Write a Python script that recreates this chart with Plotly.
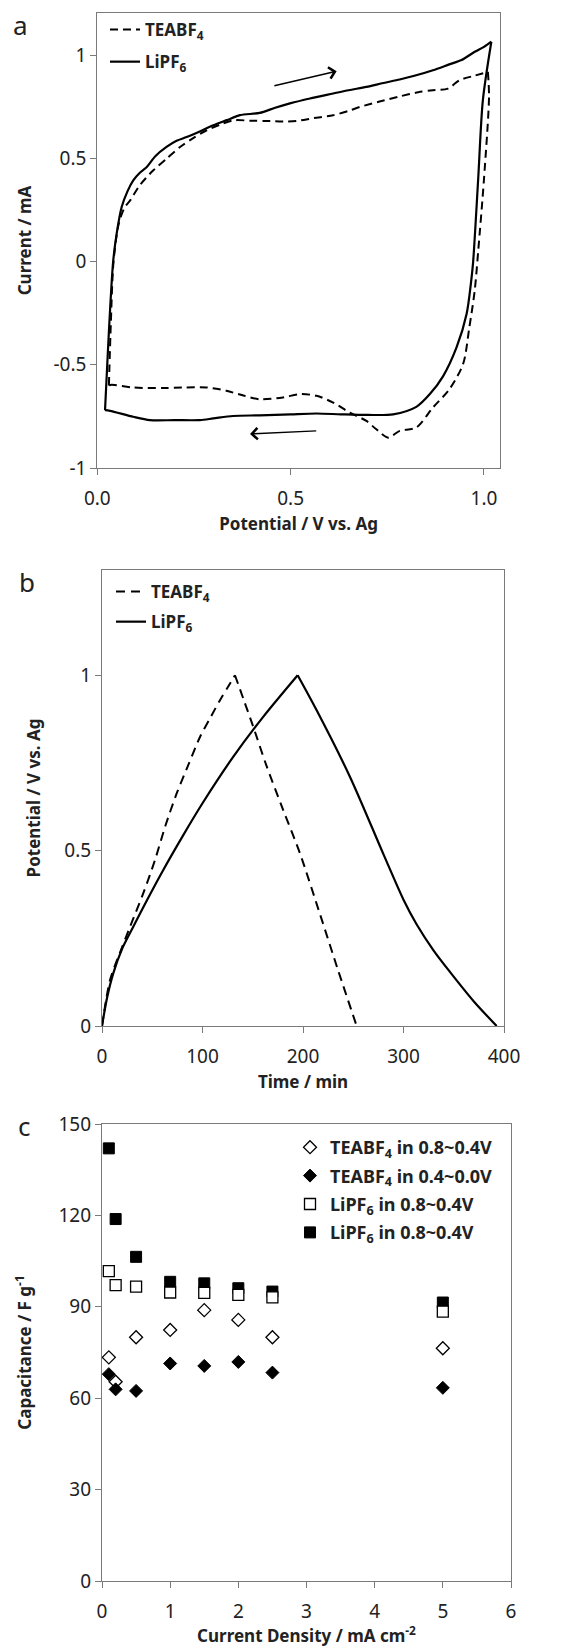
import plotly.graph_objects as go

# ---------------- Panel a: cyclic voltammetry ----------------
cv_tea_x = [0.03, 0.035, 0.042, 0.055, 0.07, 0.085, 0.11, 0.145, 0.18, 0.214, 0.25, 0.283, 0.32, 0.351,
            0.40, 0.438, 0.48, 0.515, 0.56, 0.61, 0.65, 0.679, 0.73, 0.782, 0.83, 0.868, 0.907, 0.937,
            0.975, 1.01, 1.013, 1.0, 0.985, 0.976, 0.962, 0.946, 0.91, 0.868, 0.825, 0.782, 0.752,
            0.72, 0.696, 0.653, 0.61, 0.567, 0.524, 0.48, 0.42, 0.38, 0.334, 0.283, 0.22, 0.17,
            0.093, 0.037, 0.03]
cv_tea_y = [-0.60, -0.30, 0.0, 0.18, 0.26, 0.296, 0.37, 0.442, 0.50, 0.555, 0.60, 0.636, 0.665, 0.684,
            0.682, 0.681, 0.678, 0.681, 0.695, 0.709, 0.73, 0.749, 0.775, 0.80, 0.82, 0.83, 0.838, 0.879,
            0.90, 0.919, 0.80, 0.40, 0.05, -0.141, -0.32, -0.496, -0.62, -0.707, -0.804, -0.82, -0.853,
            -0.81, -0.772, -0.732, -0.683, -0.65, -0.642, -0.658, -0.667, -0.65, -0.626, -0.61, -0.61,
            -0.613, -0.61, -0.597, -0.60]

cv_li_x = [0.02, 0.027, 0.034, 0.041, 0.05, 0.063, 0.078, 0.093, 0.11, 0.128, 0.15, 0.179, 0.205, 0.231,
           0.265, 0.30, 0.335, 0.369, 0.42, 0.46, 0.498, 0.55, 0.61, 0.65, 0.696, 0.74, 0.782, 0.82,
           0.868, 0.91, 0.942, 0.976, 1.0, 1.019, 0.997, 0.985, 0.972, 0.967, 0.955, 0.929, 0.894,
           0.86, 0.825, 0.765, 0.70, 0.63, 0.567, 0.50, 0.42, 0.351, 0.30, 0.265, 0.20, 0.136, 0.093,
           0.033, 0.02]
cv_li_y = [-0.72, -0.45, -0.20, 0.0, 0.134, 0.264, 0.34, 0.393, 0.43, 0.458, 0.51, 0.555, 0.585, 0.603,
           0.63, 0.66, 0.685, 0.709, 0.72, 0.745, 0.766, 0.79, 0.814, 0.83, 0.846, 0.865, 0.882, 0.90,
           0.927, 0.955, 0.976, 1.016, 1.04, 1.065, 0.78, 0.40, 0.0, -0.092, -0.254, -0.416, -0.556,
           -0.642, -0.704, -0.74, -0.743, -0.74, -0.736, -0.74, -0.745, -0.748, -0.76, -0.768, -0.768,
           -0.768, -0.752, -0.723, -0.72]

# ---------------- Panel b: galvanostatic charge/discharge ----------------
gcd_tea_t = [0, 8, 18, 27.9, 41, 52.7, 63, 74.3, 86, 97.5, 108, 117.4, 125, 132.3,
             141, 150.5, 163.9, 180.4, 197, 217, 235, 253.4]
gcd_tea_v = [0, 0.131, 0.21, 0.283, 0.378, 0.473, 0.57, 0.663, 0.745, 0.824, 0.88, 0.929, 0.965, 1.0,
             0.93, 0.853, 0.74, 0.615, 0.492, 0.318, 0.158, 0]

gcd_li_t = [0, 5, 11.2, 20, 31.1, 45, 60, 80, 100, 130, 160, 194.7,
            213.6, 246.8, 280, 300, 313, 330, 346, 370, 392.7]
gcd_li_v = [0, 0.08, 0.15, 0.22, 0.283, 0.36, 0.44, 0.54, 0.635, 0.765, 0.88, 1.0,
            0.90, 0.71, 0.49, 0.36, 0.29, 0.215, 0.155, 0.07, 0]

# ---------------- Panel c: capacitance vs current density ----------------
cur_density = [0.1, 0.2, 0.5, 1, 1.5, 2, 2.5, 5]
cap_tea_high = [73.4, 65.4, 80.0, 82.4, 88.9, 85.7, 80.0, 76.4]
cap_tea_low = [67.9, 62.9, 62.4, 71.4, 70.6, 71.9, 68.4, 63.4]
cap_li_open = [101.7, 97.1, 96.6, 94.7, 94.6, 93.9, 93.1, 88.4]
cap_li_filled = [142.0, 118.8, 106.4, 98.2, 97.7, 96.1, 95.0, 91.4]

name_tea = "TEABF<sub>4</sub>"
name_li = "LiPF<sub>6</sub>"
c_names = ["TEABF<sub>4</sub> in 0.8~0.4V", "TEABF<sub>4</sub> in 0.4~0.0V",
           "LiPF<sub>6</sub> in 0.8~0.4V", "LiPF<sub>6</sub> in 0.8~0.4V"]

FONT = "Noto Sans"
AX = "#7a7a7a"
TXT = "#222222"
H = 1647
W = 562

fig = go.Figure()


def add_branches(xs, ys, name, line, xa, ya, leg, group):
    """Draw a curve as two smooth branches split at its vertex (max of y)."""
    k = max(range(len(ys)), key=lambda i: ys[i])
    for j, (bx, by) in enumerate([(xs[:k + 1], ys[:k + 1]), (xs[k:], ys[k:])]):
        fig.add_trace(go.Scatter(x=bx, y=by, mode="lines", name=name,
                                 line=dict(shape="spline", smoothing=0.8, **line),
                                 xaxis=xa, yaxis=ya, legend=leg, legendgroup=group,
                                 showlegend=(j == 0)))


add_branches(cv_tea_x, cv_tea_y, name_tea, dict(color="black", width=2, dash="8px,5px"), "x", "y", "legend", "a1")
add_branches(cv_li_x, cv_li_y, name_li, dict(color="black", width=2.2), "x", "y", "legend", "a2")
add_branches(gcd_tea_t, gcd_tea_v, name_tea, dict(color="black", width=2, dash="9px,6px"), "x2", "y2", "legend2", "b1")
add_branches(gcd_li_t, gcd_li_v, name_li, dict(color="black", width=2.2), "x2", "y2", "legend2", "b2")

# panel c traces
fig.add_trace(go.Scatter(x=cur_density, y=cap_tea_high, mode="markers", name=c_names[0],
                         marker=dict(symbol="diamond", size=10, color="white",
                                     line=dict(color="black", width=1.3)),
                         xaxis="x3", yaxis="y3", legend="legend3", legendgroup="c1", legendrank=1))
fig.add_trace(go.Scatter(x=cur_density, y=cap_tea_low, mode="markers", name=c_names[1],
                         marker=dict(symbol="diamond", size=10, color="black",
                                     line=dict(color="black", width=1)),
                         xaxis="x3", yaxis="y3", legend="legend3", legendgroup="c2", legendrank=2))
fig.add_trace(go.Scatter(x=cur_density, y=cap_li_filled, mode="markers", name=c_names[3],
                         marker=dict(symbol="square", size=11, color="black",
                                     line=dict(color="black", width=1)),
                         xaxis="x3", yaxis="y3", legend="legend3", legendgroup="c4", legendrank=4))
fig.add_trace(go.Scatter(x=cur_density, y=cap_li_open, mode="markers", name=c_names[2],
                         marker=dict(symbol="square", size=11, color="white",
                                     line=dict(color="black", width=1.3)),
                         xaxis="x3", yaxis="y3", legend="legend3", legendgroup="c3", legendrank=3))

tickfont = dict(family=FONT, size=19, color=TXT)
titlefont = dict(family=FONT, size=17, color=TXT, weight=700)


def axis(**kw):
    d = dict(showline=True, linecolor=AX, linewidth=1.2, mirror=True, ticks="outside",
             ticklen=6, tickcolor=AX, tickwidth=1.2, showgrid=False, zeroline=False,
             tickfont=tickfont, automargin=False)
    d.update(kw)
    return d


legfont = dict(family=FONT, size=17, color=TXT, weight=700)
legfont_c = dict(family=FONT, size=18, color=TXT, weight=700)

fig.update_layout(
    width=W, height=H, margin=dict(l=0, r=0, t=0, b=0, pad=0, autoexpand=False),
    paper_bgcolor="white", plot_bgcolor="white",
    xaxis=axis(domain=[97.3 / W, 500 / W], range=[0, 1.0414], anchor="y",
               tickvals=[0, 0.5, 1.0], ticktext=["0.0", "0.5", "1.0"], ticklabelstandoff=7,
               title=dict(text="Potential / V vs. Ag", font=titlefont, standoff=8)),
    yaxis=axis(domain=[1 - 468 / H, 1 - 13 / H], range=[-1, 1.204], anchor="x",
               tickvals=[-1, -0.5, 0, 0.5, 1], ticktext=["-1", "-0.5", "0", "0.5", "1"],
               title=dict(text="Current / mA", font=titlefont, standoff=17)),
    xaxis2=axis(domain=[102 / W, 504 / W], range=[0, 400], anchor="y2",
                tickvals=[0, 100, 200, 300, 400], ticklabelstandoff=7,
                title=dict(text="Time / min", font=titlefont, standoff=8)),
    yaxis2=axis(domain=[1 - 1026 / H, 1 - 570 / H], range=[0, 1.3], anchor="x2",
                tickvals=[0, 0.5, 1], ticktext=["0", "0.5", "1"],
                title=dict(text="Potential / V vs. Ag", font=titlefont, standoff=19)),
    xaxis3=axis(domain=[102 / W, 511 / W], range=[0, 6], anchor="y3",
                tickvals=[0, 1, 2, 3, 4, 5, 6], ticklabelstandoff=7,
                title=dict(text="Current Density / mA cm<sup>-2</sup>", font=titlefont, standoff=4)),
    yaxis3=axis(domain=[1 - 1581 / H, 1 - 1124 / H], range=[0, 150], anchor="x3",
                tickvals=[0, 30, 60, 90, 120, 150],
                title=dict(text="Capacitance / F g<sup>-1</sup>", font=titlefont, standoff=22)),
    legend=dict(x=105 / W, y=1 - 12 / H, xanchor="left", yanchor="top", font=legfont,
                bgcolor="rgba(0,0,0,0)", traceorder="grouped", tracegroupgap=7),
    legend2=dict(x=111 / W, y=1 - 574 / H, xanchor="left", yanchor="top", font=legfont,
                 bgcolor="rgba(0,0,0,0)", traceorder="grouped", tracegroupgap=5),
    legend3=dict(x=290 / W, y=1 - 1129 / H, xanchor="left", yanchor="top", font=legfont_c,
                 bgcolor="rgba(0,0,0,0)", traceorder="grouped", tracegroupgap=2),
    showlegend=True,
)

annotations = [
    dict(text="a", x=20 / W, y=1 - 25 / H, xref="paper", yref="paper", showarrow=False,
         font=dict(family=FONT, size=26, color=TXT), xanchor="center", yanchor="middle"),
    dict(text="b", x=27 / W, y=1 - 582 / H, xref="paper", yref="paper", showarrow=False,
         font=dict(family=FONT, size=26, color=TXT), xanchor="center", yanchor="middle"),
    dict(text="c", x=24 / W, y=1 - 1126 / H, xref="paper", yref="paper", showarrow=False,
         font=dict(family=FONT, size=26, color=TXT), xanchor="center", yanchor="middle"),
    # sweep-direction arrows in panel a
    dict(x=0.619, y=0.922, ax=0.454, ay=0.85, xref="x", yref="y", axref="x", ayref="y",
         text="", showarrow=True, arrowhead=4, arrowsize=1.6, arrowwidth=1.4, arrowcolor="black"),
    dict(x=0.395, y=-0.835, ax=0.57, ay=-0.82, xref="x", yref="y", axref="x", ayref="y",
         text="", showarrow=True, arrowhead=4, arrowsize=1.6, arrowwidth=1.4, arrowcolor="black"),
]
fig.update_layout(annotations=annotations)

# remove the browser's default 8px page margin so the figure sits at the window origin
fig.write_html("out.html", config={"displayModeBar": False},
               post_script="document.body.style.margin='0px';")
